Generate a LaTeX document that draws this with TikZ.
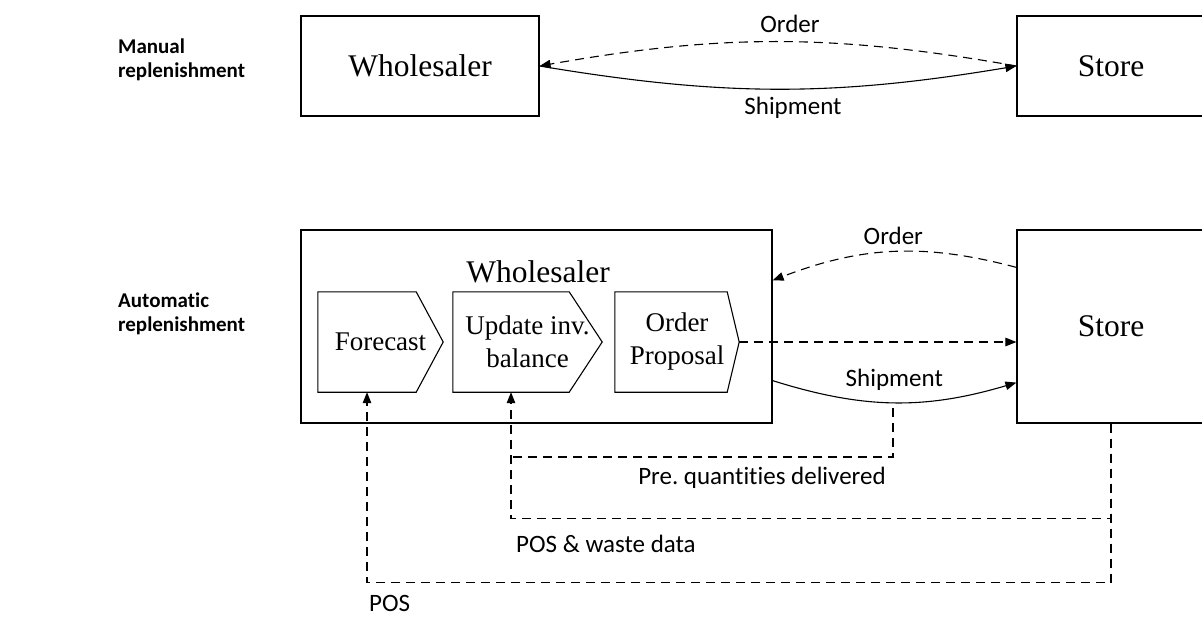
\documentclass[tikz,border=0pt]{standalone}
\usepackage{fontspec}
\setmainfont{Liberation Serif}
\newfontfamily\lblfont[Ligatures={NoCommon}]{Carlito}
\usetikzlibrary{arrows.meta}
\frenchspacing
\begin{document}
\begin{tikzpicture}[x=1pt,y=-1pt,
    box/.style = {draw, line width=1.2pt, inner sep=0pt,
                  font=\fontsize{31.5}{36}\selectfont},
    chev/.style = {inner sep=0pt, minimum height=100pt, align=center,
                   font=\fontsize{27}{33}\selectfont},
    lbl/.style = {inner sep=0pt, font=\lblfont\fontsize{25}{30}\selectfont},
    side/.style = {anchor=west, inner sep=0pt, align=left,
                   font=\lblfont\bfseries\fontsize{21}{24}\selectfont},
    flow/.style = {line width=1.1pt, -{Triangle[length=11pt,width=8.5pt]}},
    dline/.style = {line width=1.1pt, dash pattern=on 9pt off 6pt}]
  \useasboundingbox (0,0) rectangle (1202,616);
  % headings
  \node[side] (man) at (118,60) {Manual\\replenishment};
  \node[side] (aut) at (118,314) {Automatic\\replenishment};
  % manual replenishment
  \node[box, minimum width=238pt, minimum height=100pt] (tw) at (420,66) {Wholesaler};
  \node[box, minimum width=188pt, minimum height=100pt] (ts) at (1111,66) {Store};
  \draw[flow, dline] (ts.west) to[bend right=10]
    node[lbl, above=9pt, xshift=12pt] {Order} (tw.east);
  \draw[flow] (tw.east) to[bend right=9.5]
    node[lbl, below=8pt, xshift=15pt] {Shipment} (ts.west);
  % automatic replenishment
  \node[box, minimum width=471pt, minimum height=193pt] (bw) at (536.5,326.5) {};
  \node[box, draw=none] (bwt) at (538,272) {Wholesaler};
  \node[box, minimum width=188pt, minimum height=193pt] (bs) at (1111,326.5) {Store};
  \node[chev, minimum width=125pt] (fc) at (380.5,342) {Forecast};
  \node[chev, minimum width=149pt] (ui) at (527.5,342) {Update inv.\\balance};
  \node[chev, minimum width=124pt] (op) at (677,342) {Order\\Proposal};
  \foreach \n/\t in {fc/27,ui/33,op/12}
    \draw[line width=1.1pt] (\n.north west) -- ([xshift=-\t pt]\n.north east)
      -- (\n.east) -- ([xshift=-\t pt]\n.south east) -- (\n.south west) -- cycle;
  \draw[flow, dline] ([yshift=-38pt]bs.north west) to[bend right=18]
    node[lbl, above=7pt] {Order} ([yshift=-51pt]bw.north east);
  \draw[flow, dline] (op.east) -- (op.east -| bs.west);
  \draw[flow] ([yshift=43pt]bw.south east) to[bend right=17]
    node[lbl, above=11.5pt] {Shipment} ([yshift=41pt]bs.south west);
  % feedback lines
  \coordinate (shp) at (893,408);
  \coordinate (qd) at (893,457);
  \coordinate (uiin) at ([xshift=-16.5pt]ui.south);
  \coordinate (fcin) at ([xshift=-13.5pt]fc.south);
  \draw[dline] (shp) -- (qd) -- (qd -| uiin);
  \draw[flow, dline] (bs.south) -- ++(0,95) -| (uiin);
  \draw[flow, dline] (bs.south) -- ++(0,159) -| (fcin);
  \node[lbl] (pqd) at (762,478) {Pre. quantities delivered};
  \node[lbl, anchor=west] (pwd) at (516,544) {POS \& waste data};
  \node[lbl, anchor=west] (pos) at (369,603) {POS};
\end{tikzpicture}
\end{document}
